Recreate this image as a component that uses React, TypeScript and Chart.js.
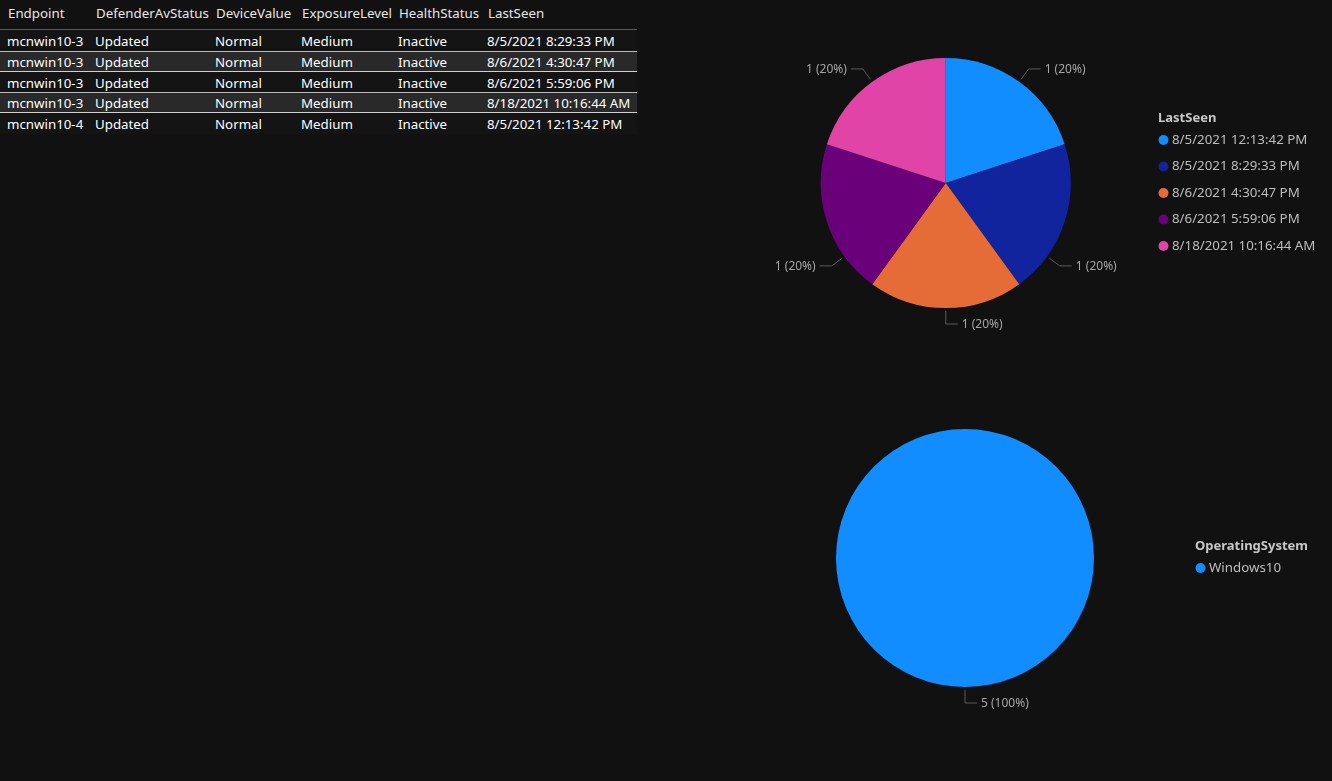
import React, { useEffect, useRef } from "react";
import { Chart, registerables } from "chart.js";

Chart.register(...registerables);

// ---- Table data ----
const tableHeaders = ["Endpoint", "DefenderAvStatus", "DeviceValue", "ExposureLevel", "HealthStatus", "LastSeen"];
const endpoints = ["mcnwin10-3", "mcnwin10-3", "mcnwin10-3", "mcnwin10-3", "mcnwin10-4"];
const avStatus = ["Updated", "Updated", "Updated", "Updated", "Updated"];
const deviceValue = ["Normal", "Normal", "Normal", "Normal", "Normal"];
const exposureLevel = ["Medium", "Medium", "Medium", "Medium", "Medium"];
const healthStatus = ["Inactive", "Inactive", "Inactive", "Inactive", "Inactive"];
const lastSeen = [
  "8/5/2021 8:29:33 PM",
  "8/6/2021 4:30:47 PM",
  "8/6/2021 5:59:06 PM",
  "8/18/2021 10:16:44 AM",
  "8/5/2021 12:13:42 PM",
];

// ---- Pie 1: LastSeen ----
const lastSeenLabels = [
  "8/5/2021 12:13:42 PM",
  "8/5/2021 8:29:33 PM",
  "8/6/2021 4:30:47 PM",
  "8/6/2021 5:59:06 PM",
  "8/18/2021 10:16:44 AM",
];
const lastSeenCounts = [1, 1, 1, 1, 1];
const lastSeenColors = ["#118DFF", "#12239E", "#E66C37", "#6B007B", "#E044A7"];

// ---- Pie 2: OperatingSystem ----
const osLabels = ["Windows10"];
const osCounts = [5];
const osColors = ["#118DFF"];

const FONT = '"Segoe UI", "Noto Sans", sans-serif';
const colLefts = [0, 88, 208, 294, 391, 480];
const colWidths = [88, 120, 86, 97, 89, 157];

const pbiPiePlugin = {
  id: "pbiPie",
  afterDraw(chart: any, _args: any, opts: any) {
    const ctx = chart.ctx;
    const meta = chart.getDatasetMeta(0);
    const data: number[] = chart.data.datasets[0].data;
    const total = data.reduce((a, b) => a + b, 0);
    const shifts: number[] = opts.shifts || [];
    let cx = 0, cy = 0;
    ctx.save();
    ctx.font = `12px ${FONT}`;
    ctx.textBaseline = "middle";
    meta.data.forEach((arc: any, i: number) => {
      const p = arc.getProps(["x", "y", "startAngle", "endAngle", "outerRadius"], true);
      cx = p.x; cy = p.y;
      const mid = (p.startAngle + p.endAngle) / 2 + ((shifts[i] || 0) * Math.PI) / 180;
      const c = Math.cos(mid), s = Math.sin(mid);
      const r = p.outerRadius;
      const x1 = p.x + c * (r + 3), y1 = p.y + s * (r + 3);
      const x2 = p.x + c * (r + 16), y2 = p.y + s * (r + 16);
      const right = c >= -1e-6;
      const x3 = x2 + (right ? 12 : -12);
      ctx.strokeStyle = "#5a5a5a";
      ctx.lineWidth = 1;
      ctx.beginPath();
      ctx.moveTo(x1, y1);
      ctx.lineTo(x2, y2);
      ctx.lineTo(x3, y2);
      ctx.stroke();
      const pct = Math.round((data[i] / total) * 100);
      ctx.fillStyle = "#a6a6a6";
      ctx.textAlign = right ? "left" : "right";
      ctx.fillText(`${data[i]} (${pct}%)`, x3 + (right ? 4 : -4), y2 + 1);
    });
    // legend
    const labels: string[] = chart.data.labels;
    const colors: string[] = chart.data.datasets[0].backgroundColor;
    const titleGap = 22, itemGap = 26.5;
    const span = titleGap + (labels.length - 1) * itemGap;
    const lx = opts.legendX;
    const ty = cy - span / 2 - 1;
    ctx.textAlign = "left";
    ctx.font = `bold 13px ${FONT}`;
    ctx.fillStyle = "#c8c8c8";
    ctx.fillText(opts.legendTitle, lx, ty);
    ctx.font = `13.3px ${FONT}`;
    labels.forEach((lab, i) => {
      const iy = ty + titleGap + i * itemGap;
      ctx.fillStyle = colors[i];
      ctx.beginPath();
      ctx.arc(lx + 5.5, iy, 5, 0, Math.PI * 2);
      ctx.fill();
      ctx.fillStyle = "#bdbdbd";
      ctx.fillText(lab, lx + 14, iy);
    });
    ctx.restore();
  },
};

function PieCanvas(props: {
  labels: string[];
  values: number[];
  colors: string[];
  left: number;
  top: number;
  width: number;
  height: number;
  padding: { left: number; right: number; top: number; bottom: number };
  legendX: number;
  legendTitle: string;
  shifts: number[];
}) {
  const ref = useRef<HTMLCanvasElement>(null);
  useEffect(() => {
    if (!ref.current) return;
    const chart = new Chart(ref.current, {
      type: "pie",
      data: {
        labels: props.labels,
        datasets: [
          {
            data: props.values,
            backgroundColor: props.colors,
            borderWidth: 0,
          },
        ],
      },
      options: {
        animation: false,
        responsive: false,
        maintainAspectRatio: false,
        devicePixelRatio: 1,
        layout: { padding: props.padding },
        plugins: {
          legend: { display: false },
          tooltip: { enabled: false },
          pbiPie: { legendX: props.legendX, legendTitle: props.legendTitle, shifts: props.shifts },
        } as any,
      },
      plugins: [pbiPiePlugin],
    });
    return () => chart.destroy();
  }, []);
  return (
    <canvas
      ref={ref}
      width={props.width}
      height={props.height}
      style={{ position: "absolute", left: props.left, top: props.top, width: props.width, height: props.height }}
    />
  );
}

export default function App() {
  useEffect(() => {
    document.body.style.margin = "0";
    document.body.style.background = "#111111";
  }, []);
  const rows = endpoints.map((e, i) => [e, avStatus[i], deviceValue[i], exposureLevel[i], healthStatus[i], lastSeen[i]]);
  const rowH = 20.75;
  return (
    <div
      style={{
        position: "fixed",
        left: 0,
        top: 0,
        width: 1332,
        height: 781,
        background: "#111111",
        overflow: "hidden",
        fontFamily: FONT,
      }}
    >
      {/* Table */}
      <div style={{ position: "absolute", left: 0, top: 0, width: 637 }}>
        <div style={{ position: "relative", height: 29, borderBottom: "1px solid #2467a8" }}>
          {tableHeaders.map((h, j) => (
            <div
              key={h}
              style={{
                position: "absolute",
                left: colLefts[j] + 8,
                top: 0,
                height: 27,
                lineHeight: "27px",
                fontSize: 13.3,
                color: "#e6e6e6",
                whiteSpace: "nowrap",
              }}
            >
              {h}
            </div>
          ))}
        </div>
        {rows.map((r, i) => {
          const alt = i % 2 === 1;
          return (
            <div
              key={i}
              style={{
                position: "absolute",
                left: 0,
                top: 30 + i * rowH,
                width: 637,
                height: rowH,
                boxSizing: "border-box",
                background: alt ? "#292929" : "#141414",
                borderTop: alt ? "1px solid #b9b9b9" : "none",
                borderBottom: alt ? "1px solid #d0d0d0" : "none",
              }}
            >
              {r.map((v, j) => (
                <div
                  key={j}
                  style={{
                    position: "absolute",
                    left: colLefts[j] + 7,
                    width: colWidths[j] - 7,
                    top: alt ? 0 : 1,
                    height: rowH,
                    lineHeight: `${rowH}px`,
                    fontSize: 13.3,
                    color: "#ffffff",
                    whiteSpace: "nowrap",
                  }}
                >
                  {v}
                </div>
              ))}
            </div>
          );
        })}
      </div>

      <PieCanvas
        labels={lastSeenLabels}
        values={lastSeenCounts}
        colors={lastSeenColors}
        left={740}
        top={40}
        width={592}
        height={300}
        padding={{ left: 80.5, right: 261, top: 18, bottom: 32 }}
        legendX={418}
        legendTitle="LastSeen"
        shifts={[0, 18, 0, -18, 0]}
      />
      <PieCanvas
        labels={osLabels}
        values={osCounts}
        colors={osColors}
        left={740}
        top={400}
        width={592}
        height={340}
        padding={{ left: 96, right: 238, top: 29, bottom: 53 }}
        legendX={455}
        legendTitle="OperatingSystem"
        shifts={[0]}
      />
    </div>
  );
}
